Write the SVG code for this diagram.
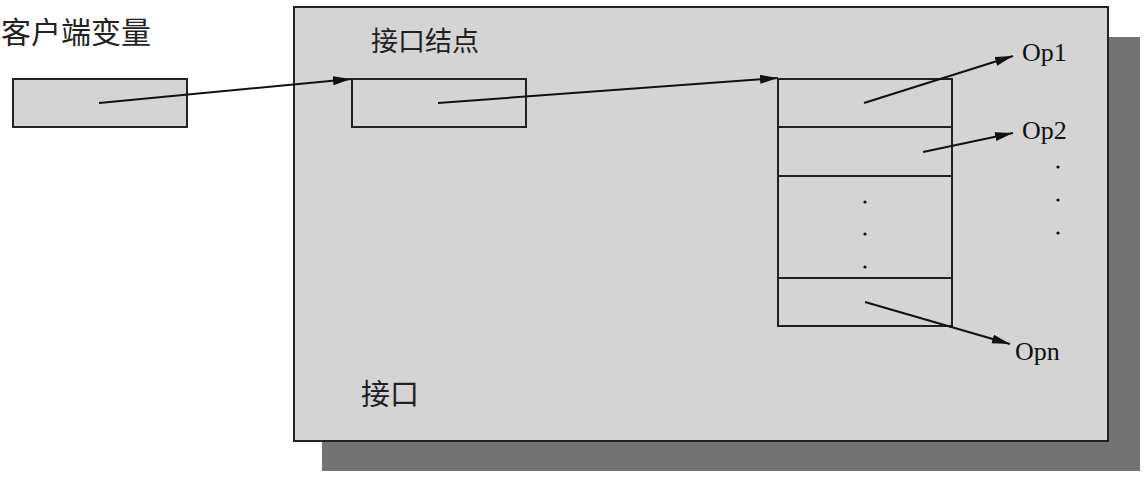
<svg xmlns="http://www.w3.org/2000/svg" width="1146" height="478" viewBox="0 0 1146 478">
<style>
.box{fill:#d4d4d4;stroke:#222;stroke-width:2}
.cell{fill:none;stroke:#222;stroke-width:2}
.conn{stroke:#111;stroke-width:2;fill:none;marker-end:url(#ah)}
.cjk{font-family:"Noto Sans CJK SC","Noto Sans",sans-serif;fill:#222}
.op{font-family:"Liberation Serif",serif;font-size:26px;fill:#111}
.dot{fill:#111}
</style>
<defs>
<marker id="ah" markerUnits="userSpaceOnUse" markerWidth="20" markerHeight="10" refX="18" refY="4.5" orient="auto">
<path d="M0,0 L18,4.5 L0,9 z" fill="#111"/>
</marker>
</defs>
<rect width="1146" height="478" fill="#ffffff"/>
<g id="interface">
<rect x="322" y="37" width="818" height="434" fill="#737373"/>
<rect class="box" x="294" y="7" width="814" height="434"/>
<text class="cjk" x="361" y="405" font-size="29">接口</text>
</g>
<g id="client-var">
<text class="cjk" x="1" y="43" font-size="30">客户端变量</text>
<rect class="box" x="13" y="79" width="174" height="48"/>
</g>
<g id="interface-node">
<text class="cjk" x="371" y="51" font-size="27">接口结点</text>
<rect class="cell" x="352" y="79" width="174" height="48"/>
</g>
<g id="table">
<rect class="cell" x="778" y="79" width="174" height="247"/>
<line class="cell" x1="778" y1="127" x2="952" y2="127"/>
<line class="cell" x1="778" y1="176" x2="952" y2="176"/>
<line class="cell" x1="778" y1="278" x2="952" y2="278"/>
<circle class="dot" cx="865" cy="202" r="1.6"/>
<circle class="dot" cx="865" cy="234" r="1.6"/>
<circle class="dot" cx="865" cy="267" r="1.6"/>
</g>
<g id="op1"><text class="op" x="1022" y="61">Op1</text></g>
<g id="op2"><text class="op" x="1022" y="139">Op2</text></g>
<g id="op-dots">
<circle class="dot" cx="1058" cy="167" r="1.6"/>
<circle class="dot" cx="1058" cy="200" r="1.6"/>
<circle class="dot" cx="1058" cy="233" r="1.6"/>
</g>
<g id="opn"><text class="op" x="1015" y="360">Opn</text></g>
<g id="connectors">
<line class="conn" x1="99" y1="103" x2="351" y2="79"/>
<line class="conn" x1="438" y1="103" x2="778" y2="78"/>
<line class="conn" x1="864" y1="103" x2="1013" y2="56"/>
<line class="conn" x1="923" y1="152" x2="1013" y2="133"/>
<line class="conn" x1="865" y1="302" x2="1010" y2="344"/>
</g>
</svg>
